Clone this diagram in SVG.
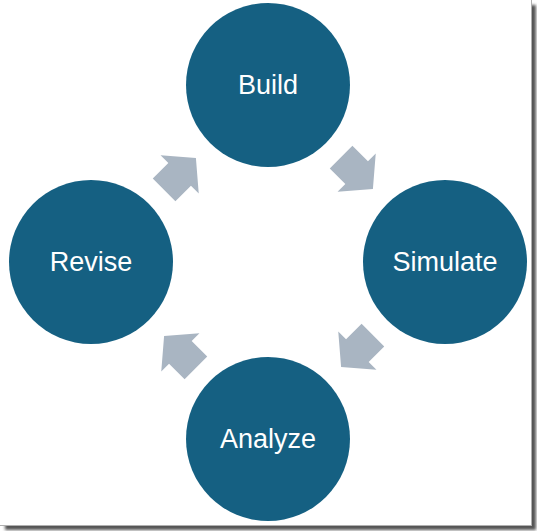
<svg xmlns="http://www.w3.org/2000/svg" width="537" height="531" viewBox="0 0 537 531">
  <defs>
    <filter id="sh" x="-5%" y="-5%" width="110%" height="110%">
      <feGaussianBlur stdDeviation="1.5"/>
    </filter>
    <polygon id="arr" points="-22.5,-16 -0.5,-16 -0.5,-27 22.5,0 -0.5,27 -0.5,16 -22.5,16"/>
    <style>
      .node circle { fill: #156082; }
      .node text { fill: #ffffff; font-family: "Liberation Sans", Arial, sans-serif; font-size: 27px; text-anchor: middle; }
      .conn use { fill: #A9B5C2; }
    </style>
  </defs>
  <rect x="0" y="0" width="537" height="531" fill="#ffffff"/>
  <rect x="5" y="5" width="531" height="525" fill="#555555" filter="url(#sh)"/>
  <rect x="0" y="0" width="532" height="526" fill="#ffffff"/>
  <line x1="531.5" y1="0" x2="531.5" y2="526" stroke="#b0b0b0" stroke-width="1"/>
  <line x1="0" y1="525.5" x2="532" y2="525.5" stroke="#b0b0b0" stroke-width="1"/>

  <g id="connectors" class="conn">
    <use href="#arr" transform="translate(357,173) rotate(45)"/>
    <use href="#arr" transform="translate(357,351) rotate(135)"/>
    <use href="#arr" transform="translate(180,352) rotate(225)"/>
    <use href="#arr" transform="translate(180,174) rotate(-45)"/>
  </g>

  <g id="build" class="node">
    <circle cx="268" cy="85" r="82"/>
    <text x="268" y="94">Build</text>
  </g>
  <g id="simulate" class="node">
    <circle cx="445" cy="262" r="82"/>
    <text x="445" y="271">Simulate</text>
  </g>
  <g id="analyze" class="node">
    <circle cx="268" cy="439" r="82"/>
    <text x="268" y="448">Analyze</text>
  </g>
  <g id="revise" class="node">
    <circle cx="91" cy="262" r="82"/>
    <text x="91" y="271">Revise</text>
  </g>
</svg>
